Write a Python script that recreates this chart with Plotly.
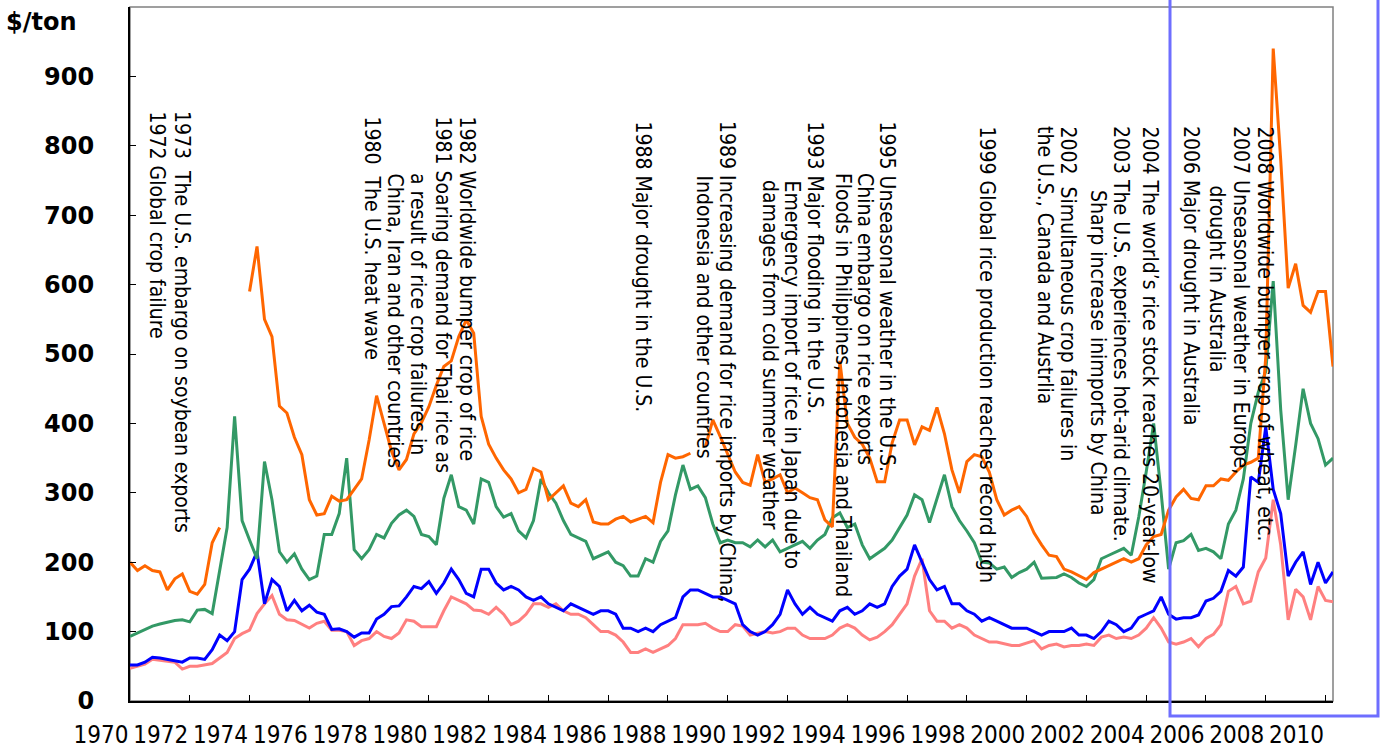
import plotly.graph_objects as go

# quarterly readings, Jan 1970 .. Apr 2010
YEARS = [1970 + q / 4 for q in range(162)]

RICE = [
    200, 188, 195, 188,  186, 160, 176, 183,  158, 154, 168, 228,  250, None, None, None,
    590, 655, 550, 525,  425, 415, 380, 355,  290, 268, 270, 295,  288, 290, 305, 320,
    376, 440, 400, 360,  333, 348, 385, 401,  424, 455, 482, 490,  525, 549, 530, 410,
    370, 350, 333, 320,  300, 305, 335, 330,  290, 300, 310, 285,  280, 290, 258, 255,
    255, 262, 266, 258,  262, 266, 257, 315,  355, 350, 352, 357,  None, 366, 405, 381,
    355, 330, 315, 311,  355, 315, 320, 326,  300, 307, 300, 293,  290, 261, 251, 490,
    400, 380, 370, 350,  316, 316, 372, 405,  405, 369, 395, 390,  423, 385, 333, 300,
    345, 355, 352, 330,  290, 268, 275, 280,  266, 242, 225, 210,  208, 190, 186, 180,
    175, 185, 190, 195,  200, 205, 200, 205,  225, 237, 240, 275,  294, 305, 292, 290,
    310, 310, 320, 318,  330, 340, 344, 350,  496, 940, 780, 595,  630, 570, 560, 590,
    590, 482,
]

SOYBEANS = [
    93, 98, 102, 108,  111, 114, 116, 117,  114, 131, 132, 126,  190, 250, 410, 260,
    232, 205, 345, 290,  215, 200, 212, 190,  175, 180, 240, 240,  270, 350, 218, 205,
    218, 240, 235, 256,  268, 275, 266, 240,  237, 225, 292, 326,  280, 275, 255, 320,
    315, 280, 265, 270,  245, 235, 260, 320,  300, 285, 260, 240,  235, 230, 205, 210,
    215, 200, 195, 180,  180, 205, 200, 230,  245, 297, 340, 305,  310, 293, 255, 228,
    232, 228, 228, 222,  232, 222, 232, 215,  220, 225, 230, 220,  232, 240, 264, 271,
    250, 255, 225, 205,  212, 220, 232, 251,  268, 297, 290, 257,  290, 326, 280, 260,
    245, 228, 200, 199,  190, 193, 178, 185,  190, 200, 177, 178,  178, 183, 178, 170,
    165, 175, 205, 210,  215, 220, 210, 265,  330, 400, 300, 190,  228, 231, 240, 217,
    220, 215, 205, 255,  275, 320, 400, 445,  475, 605, 420, 290,  368, 450, 400, 378,
    340, 350,
]

WHEAT = [
    52, 52, 56, 63,  62, 60, 57, 56,  62, 62, 60, 74,  95, 87, 100, 175,
    190, 215, 140, 175,  165, 130, 145, 130,  138, 128, 125, 103,  104, 100, 92, 98,
    98, 118, 125, 136,  137, 150, 165, 162,  172, 155, 170, 190,  175, 155, 150, 190,
    190, 170, 160, 165,  160, 150, 145, 150,  140, 135, 130, 140,  135, 130, 125, 130,
    130, 125, 105, 105,  100, 105, 100, 110,  115, 120, 150, 160,  160, 155, 150, 150,
    145, 140, 110, 100,  95, 100, 110, 125,  160, 140, 125, 135,  125, 120, 115, 130,
    135, 125, 130, 140,  135, 140, 165, 180,  190, 225, 200, 175,  160, 165, 140, 140,
    130, 125, 115, 120,  115, 110, 105, 105,  105, 100, 95, 100,  100, 100, 105, 95,
    95, 90, 100, 115,  110, 100, 105, 120,  125, 130, 150, 125,  118, 120, 120, 124,
    144, 148, 158, 188,  180, 193, 323, 315,  395, 305, 270, 180,  200, 215, 168, 200,
    170, 186,
]

CORN = [
    47, 50, 53, 60,  59, 58, 56, 46,  50, 50, 52, 54,  62, 70, 90, 97,
    102, 126, 140, 152,  125, 117, 116, 110,  105, 112, 115, 102,  102, 100, 80, 87,
    90, 100, 93, 90,  98, 117, 115, 107,  107, 107, 130, 150,  145, 140, 131, 130,
    125, 135, 125, 110,  115, 125, 140, 140,  135, 140, 130, 125,  125, 120, 110, 100,
    100, 95, 85, 70,  70, 75, 70, 75,  80, 90, 110, 110,  110, 112, 105, 100,
    100, 110, 108, 95,  98, 100, 98, 100,  105, 105, 95, 90,  90, 90, 95, 105,
    110, 105, 95, 88,  92, 100, 110, 125,  140, 180, 205, 130,  115, 115, 105, 110,
    105, 95, 90, 85,  85, 82, 80, 80,  83, 87, 75, 80,  82, 78, 80, 80,
    82, 80, 92, 95,  90, 92, 90, 95,  105, 120, 105, 85,  82, 85, 90, 78,
    90, 96, 110, 158,  165, 140, 144, 186,  206, 290, 225, 117,  161, 150, 117, 165,
    145, 143,
]

X_TICKS = list(range(1970, 2011, 2))
Y_TICKS = list(range(0, 1000, 100))

# event notes: one rotated column per line -> (text, centre px, top px)
NOTES = [
    ("1973  The U.S. embargo on soybean exports", 182, 113),
    ("1972 Global crop failure", 157, 113),
    ("1982 Worldwide bumper crop of rice", 467, 118),
    ("1981 Soaring demand for Thai rice as", 443, 118),
    ("a result of rice crop failures in", 418, 175),
    ("China, Iran and other countries", 395, 175),
    ("1980  The U.S. heat wave", 372, 118),
    ("1988 Major drought in the U.S.", 643, 123),
    ("1989 Increasing demand for rice imports by China,", 727, 123),
    ("Indonesia and other countries", 704, 177),
    ("1993 Major flooding in the U.S.", 815, 123),
    ("Emergency import of rice in Japan due to", 792, 182),
    ("damages from cold summer weather", 770, 182),
    ("1995 Unseasonal weather in the U.S.", 887, 123),
    ("China embargo on rice exports", 865, 175),
    ("Floods in Philippines, Indonesia and Thailand", 843, 175),
    ("1999 Global rice production reaches record high", 987, 128),
    ("2002  Simultaneous crop failures in", 1068, 128),
    ("the U.S., Canada and Austrlia", 1045, 128),
    ("2004 The world\u2019s rice stock reaches 20-year-low", 1150, 128),
    ("2003 The U.S. experiences hot-arid climate.", 1121, 128),
    ("Sharp increase inimports by China", 1098, 192),
    ("2008 Worldwide bumper crop of wheat, etc.", 1265, 128),
    ("2007 Unseasonal weather in Europe,", 1241, 128),
    ("drought in Australia", 1217, 187),
    ("2006 Major drought in Australia", 1191, 128),
]

W, H = 1381, 748
L, R, T, B = 130, 48, 7, 47
NARROW = "Liberation Sans Narrow, Arial Narrow, DejaVu Sans Condensed, sans-serif"


def px_x(px):
    return (px - L) / (W - L - R)


def px_y(py):
    return (H - B - py) / (H - T - B)


fig = go.Figure()

series = [
    ("Corn", CORN, "#FF8080"),
    ("Wheat", WHEAT, "#0000FF"),
    ("Soybeans", SOYBEANS, "#339966"),
    ("Rice", RICE, "#FF6600"),
]
for name, vals, color in series:
    fig.add_trace(go.Scatter(
        x=YEARS, y=vals, name=name, mode="lines",
        line=dict(color=color, width=3),
        connectgaps=False,
        hovertemplate=name + ": %{y} $/ton<extra></extra>",
    ))

for text, cx, top in NOTES:
    fig.add_annotation(
        text=text, xref="paper", yref="paper",
        x=px_x(cx), y=px_y(top - 4), xanchor="center", yanchor="top",
        textangle=90, showarrow=False,
        font=dict(family=NARROW, size=21, color="#000000"),
    )

fig.add_annotation(
    text="$/ton", xref="paper", yref="paper",
    x=px_x(4), y=px_y(22), xanchor="left", yanchor="middle",
    showarrow=False,
    font=dict(family="DejaVu Sans", size=24, color="#000000", weight=700),
)

# grey frame on top/right
fig.add_shape(type="rect", xref="paper", yref="paper", x0=0, y0=0, x1=1, y1=1,
              line=dict(color="#808080", width=1.5), layer="below")
# blue highlight box
fig.add_shape(type="rect", xref="paper", yref="paper",
              x0=px_x(1170), x1=px_x(1378), y0=px_y(716), y1=px_y(-5),
              line=dict(color="#6E6EFF", width=3))

fig.update_layout(
    width=W, height=H, autosize=False,
    margin=dict(l=L, r=R, t=T, b=B, autoexpand=False),
    plot_bgcolor="white", paper_bgcolor="white",
    showlegend=False,
)
fig.update_xaxes(
    range=[1970, 2010.25], tickvals=X_TICKS, ticktext=[str(v) for v in X_TICKS],
    ticks="inside", ticklen=6, tickcolor="#000000", tickangle=0,
    showline=True, linecolor="#000000", linewidth=2,
    showgrid=False, zeroline=False, automargin=False,
    ticklabelposition="outside left", ticklabelstandoff=11,
    tickfont=dict(family=NARROW, size=24, color="#000000"),
)
fig.update_yaxes(
    range=[0, 1000], tickvals=Y_TICKS,
    ticks="inside", ticklen=6, tickcolor="#000000",
    showline=True, linecolor="#000000", linewidth=2,
    showgrid=False, zeroline=False, automargin=False,
    ticklabelstandoff=29,
    tickfont=dict(family="DejaVu Sans", size=24, color="#000000", weight=700),
)

# page body has a default 8px margin; drop it so the figure sits at the window corner
fig.write_html(
    "out.html",
    config={"displayModeBar": False},
    post_script="document.body.style.margin='0px';",
)
